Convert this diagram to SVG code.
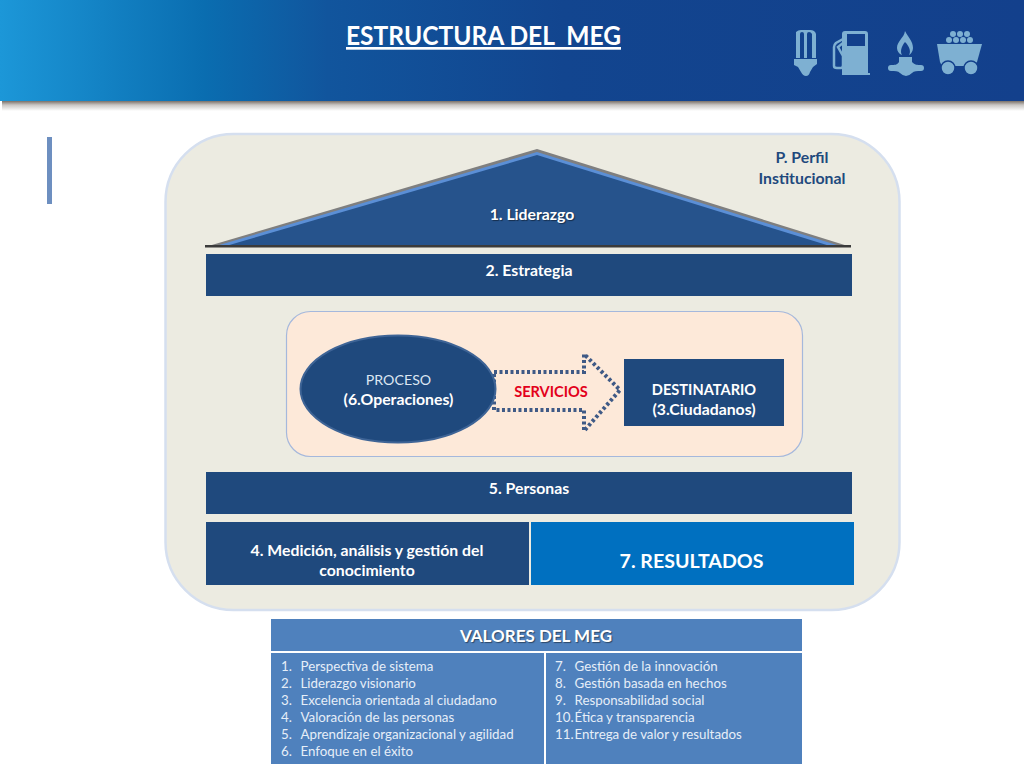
<svg xmlns="http://www.w3.org/2000/svg" width="1024" height="768" viewBox="0 0 1024 768">
<style>
text{font-family:Lato,"Open Sans",sans-serif;fill:#fff;text-anchor:middle}
.b{font-weight:700;font-size:15.800px}
.c{font-size:14.600px}
.bar{fill:#1f497d}
.l{font-size:13.300px;text-anchor:start;fill:#e6eef8}
.ic{fill:#7eb0d2}
.shadow{text-shadow:1px 1px 1px rgba(0,0,0,.45)}
</style>
<defs>
<linearGradient id="hdr" x1="0" x2="1" y1="0" y2="0"><stop offset="0" stop-color="#1c97d8"/><stop offset=".2" stop-color="#0a6db0"/><stop offset=".32" stop-color="#11559d"/><stop offset=".55" stop-color="#12458f"/><stop offset="1" stop-color="#13408c"/></linearGradient>
<linearGradient id="hs" x1="0" x2="0" y1="0" y2="1"><stop offset="0" stop-color="#7a7068"/><stop offset=".4" stop-color="#c9c6c4"/><stop offset="1" stop-color="#fff"/></linearGradient>
</defs>
<rect width="1024" height="768" fill="#fff"/>
<g id="header">
<rect x="2" y="101" width="1022" height="10" fill="url(#hs)"/>
<rect width="1024" height="101" fill="url(#hdr)"/>
<text x="483.500" y="45" font-size="27" font-weight="700" text-decoration="underline" xml:space="preserve" textLength="275" lengthAdjust="spacingAndGlyphs">ESTRUCTURA DEL  MEG</text>
<g id="icons" class="ic">
<path d="M796 32q2-2 5-2h9q5 0 6 4v24h-4V34q-1-2-3-2t-2 2v24h-3V34q0-2-2-2t-2 2v24h-4zM794 59h23v5l-4 3-3 5q-1 4-4 4t-5-4l-3-5-4-2z"/>
<path d="M842 34q0-3 3-3h20q3 0 3 3v39h2v2h-28v-2z"/>
<rect x="847" y="34" width="18" height="12" fill="#13408c"/>
<path d="M843 39l-7 4q-2 2-2 4v19q0 2 3 2h4q2 0 2-3V56l-5-9 5-4" fill="none" stroke="#7eb0d2" stroke-width="2.500"/>
<path d="M905 31c3 6 8 10 8 17 0 3-2 6-4 7 2-3 1-8-4-13-4 5-5 10-3 13-3-1-5-4-5-7 0-7 7-10 8-17z"/>
<path d="M899 57h13v5c3 3 5 3 9 3q3 0 3 3t-3 3c-4 0-7 0-9 2q-3 3-6 3t-6-3c-2-2-5-2-9-2q-3 0-3-3t3-3c4 0 6 0 8-3z"/>
<circle cx="953" cy="34" r="3"/><circle cx="960" cy="34" r="3"/><circle cx="967" cy="34" r="3"/><circle cx="949" cy="40" r="3"/><circle cx="956" cy="40" r="3"/><circle cx="963" cy="40" r="3"/><circle cx="970" cy="40" r="3"/>
<path d="M937 44h45l-5 18-4 4h-31l-2-4z"/>
<circle cx="948" cy="68" r="7" stroke="#13408c" stroke-width="1.500"/><circle cx="971" cy="68" r="7" stroke="#13408c" stroke-width="1.500"/>
</g>
</g>
<rect id="side-bar" x="47" y="137" width="5" height="67" fill="#6d8fc0"/>
<g id="frame"><rect x="165.500" y="134" width="734" height="476" rx="68" fill="#ecebe1" stroke="#d5dfef" stroke-width="2.500"/>
<text class="b" x="802" y="163" style="fill:#1f497d">P. Perfil</text><text class="b" x="802" y="184" style="fill:#1f497d">Institucional</text></g>
<g id="liderazgo">
<path d="M205 247L537 149 851 247z" fill="#7f7f7f"/>
<path d="M216 246L537 152 840 246z" fill="#5b8fd6"/>
<path d="M226 246L537 155 830 246z" fill="#26538c"/>
<rect x="205" y="245" width="646" height="2.500" fill="#3b3b3b"/>
<text class="b shadow" x="532" y="220">1. Liderazgo</text></g>
<g id="estrategia"><rect class="bar" x="206" y="254" width="646" height="42"/><text class="b" x="529" y="276">2. Estrategia</text></g>
<g id="panel"><rect x="286.500" y="311.500" width="516" height="145" rx="24" fill="#fde9d9" stroke="#a5b8dc" stroke-width="1.200"/></g>
<g id="connectors"><path d="M494 372H584V354L620 390 584 431V410H494z" fill="#fde9d9" stroke="#3f5a86" stroke-width="4" stroke-dasharray="3 2.500"/>
<text class="b c" x="551" y="397" style="fill:#e3001b">SERVICIOS</text></g>
<g id="proceso"><ellipse cx="398" cy="389" rx="97.500" ry="53.500" fill="#1f497d" stroke="#3e6496" stroke-width="2"/>
<text x="398.500" y="385" font-size="14.200" style="fill:#dce6f2">PROCESO</text><text class="b" x="398.500" y="405">(6.Operaciones)</text></g>
<g id="destinatario"><rect class="bar" x="624" y="359" width="160" height="67"/><text class="b c" x="704" y="395">DESTINATARIO</text><text class="b" x="704" y="415">(3.Ciudadanos)</text></g>
<g id="personas"><rect class="bar" x="206" y="472" width="646" height="42"/><text class="b" x="529" y="494">5. Personas</text></g>
<g id="medicion"><rect class="bar" x="206" y="522" width="323" height="63"/><text class="b" x="367" y="556">4. Medición, análisis y gestión del</text><text class="b" x="367" y="576">conocimiento</text></g>
<g id="resultados"><rect x="531" y="522" width="323" height="63" fill="#0070c0"/><text x="691.500" y="568" font-size="19.600" font-weight="700">7. RESULTADOS</text></g>
<g id="valores">
<rect x="271" y="619" width="531" height="32" fill="#4f81bd"/>
<rect x="271" y="653" width="273" height="111" fill="#4f81bd"/>
<rect x="546" y="653" width="256" height="111" fill="#4f81bd"/>
<text class="shadow" x="536" y="642" font-size="17" font-weight="700">VALORES DEL MEG</text>
<g>
<text class="l" x="281" y="671">1.</text><text class="l" x="300.500" y="671">Perspectiva de sistema</text>
<text class="l" x="281" y="688">2.</text><text class="l" x="300.500" y="688">Liderazgo visionario</text>
<text class="l" x="281" y="705">3.</text><text class="l" x="300.500" y="705">Excelencia orientada al ciudadano</text>
<text class="l" x="281" y="722">4.</text><text class="l" x="300.500" y="722">Valoración de las personas</text>
<text class="l" x="281" y="739">5.</text><text class="l" x="300.500" y="739">Aprendizaje organizacional y agilidad</text>
<text class="l" x="281" y="756">6.</text><text class="l" x="300.500" y="756">Enfoque en el éxito</text>
<text class="l" x="555" y="671">7.</text><text class="l" x="574.500" y="671">Gestión de la innovación</text>
<text class="l" x="555" y="688">8.</text><text class="l" x="574.500" y="688">Gestión basada en hechos</text>
<text class="l" x="555" y="705">9.</text><text class="l" x="574.500" y="705">Responsabilidad social</text>
<text class="l" x="555" y="722">10.</text><text class="l" x="574.500" y="722">Ética y transparencia</text>
<text class="l" x="555" y="739">11.</text><text class="l" x="574.500" y="739">Entrega de valor y resultados</text>
</g></g>
</svg>
